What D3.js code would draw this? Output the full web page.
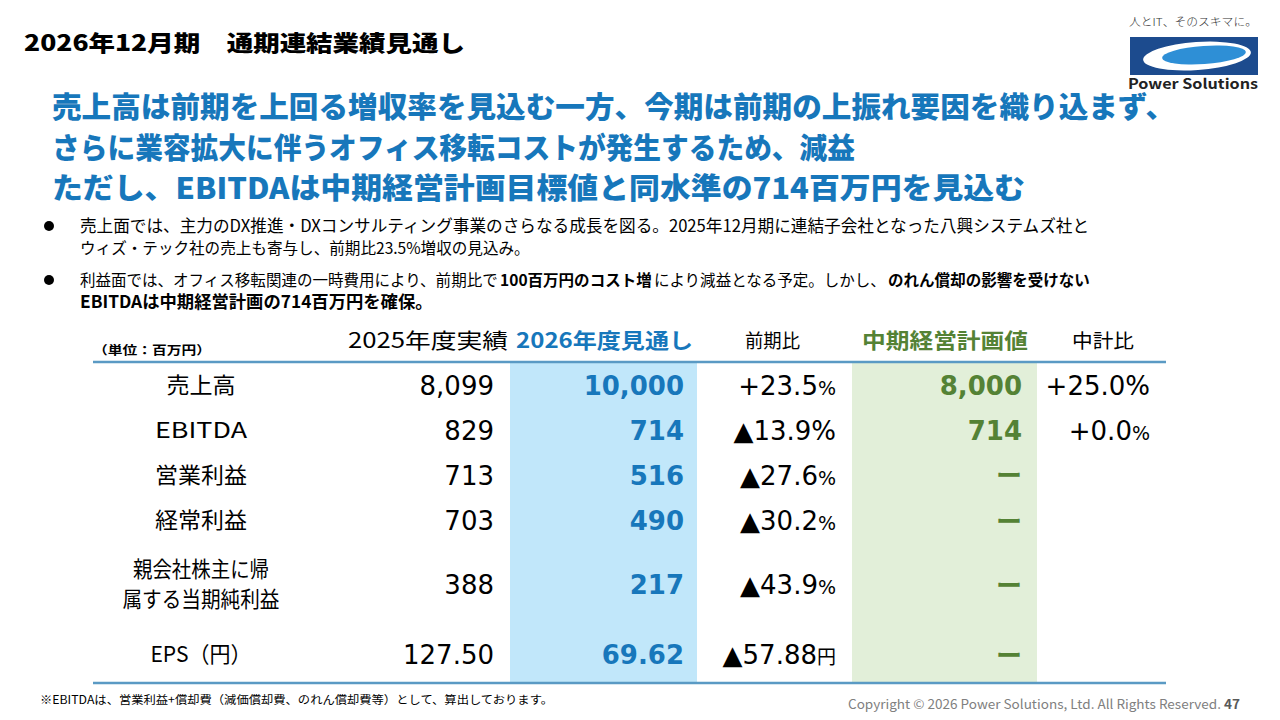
<!DOCTYPE html>
<html>
<head>
<meta charset="utf-8">
<script src="https://cdn.jsdelivr.net/npm/d3@7"></script>
<style>
  body { margin: 0; background: #fff; }
  svg { display: block; }
  text { font-family: 'Noto Sans CJK JP', 'Noto Sans', sans-serif; }
  .num { font-family: 'DejaVu Sans', 'Noto Sans CJK JP', sans-serif; }
</style>
</head>
<body>
<svg id="slide" width="1280" height="720"></svg>
<script>
// ---- data ----
var columnHeaders = ["2025年度実績", "2026年度見通し", "前期比", "中期経営計画値", "中計比"];
var rowLabels = [["売上高"], ["EBITDA"], ["営業利益"], ["経常利益"], ["親会社株主に帰", "属する当期純利益"], ["EPS（円）"]];
var actual2025 = ["8,099", "829", "713", "703", "388", "127.50"];
var forecast2026 = ["10,000", "714", "516", "490", "217", "69.62"];
var yoyValues = ["+23.5", "▲13.9", "▲27.6", "▲30.2", "▲43.9", "▲57.88"];
var yoyUnits = ["%", "%", "%", "%", "%", "円"];
var planValues = ["8,000", "714", "ー", "ー", "ー", "ー"];
var vsPlanValues = ["+25.0", "+0.0", "", "", "", ""];
var vsPlanUnits = ["%", "%", "", "", "", ""];

var titleText = "2026年12月期　通期連結業績見通し";
var headlineLines = [
  "売上高は前期を上回る増収率を見込む一方、今期は前期の上振れ要因を織り込まず、",
  "さらに業容拡大に伴うオフィス移転コストが発生するため、減益",
  "ただし、EBITDAは中期経営計画目標値と同水準の714百万円を見込む"
];
// each bullet: lines of [text, bold] runs
var bullets = [
  [
    [["売上面では、主力のDX推進・DXコンサルティング事業のさらなる成長を図る。2025年12月期に連結子会社となった八興システムズ社と", false]],
    [["ウィズ・テック社の売上も寄与し、前期比23.5%増収の見込み。", false]]
  ],
  [
    [["利益面では、オフィス移転関連の一時費用により、前期比で", false], ["100百万円のコスト増", true], ["により減益となる予定。しかし、", false], ["のれん償却の影響を受けない", true]],
    [["EBITDAは中期経営計画の714百万円を確保。", true]]
  ]
];
var unitNote = "（単位：百万円）";
var footNote = "※EBITDAは、営業利益+償却費（減価償却費、のれん償却費等）として、算出しております。";
var copyright = "Copyright © 2026 Power Solutions, Ltd. All Rights Reserved.";
var pageNo = "47";

// ---- layout / style ----
var blue = "#1777bb", green = "#548235", lineColor = "#5a9ac4";
var tableTop = 362, tableBottom = 683, tableLeft = 93, tableRight = 1166;
var rowUnits = [46, 44, 46, 45, 83, 57];
var labelWidths = [[69], [92], [92], [92], [136, 157], [101]];
var yoySmallUnit = [true, false, true, true, true, true];
var vsPlanSmallUnit = [false, true];

var svg = d3.select("#slide");

// title
svg.append("text").attr("x", 24).attr("y", 51)
  .attr("font-size", 22).attr("font-weight", 900).attr("fill", "#000")
  .attr("textLength", 441).attr("lengthAdjust", "spacingAndGlyphs")
  .text(titleText);

// logo
var logo = svg.append("g").attr("class", "logo");
logo.append("text").attr("x", 1193).attr("y", 26).attr("text-anchor", "middle")
  .attr("font-size", 11).attr("font-weight", 300).attr("fill", "#333").attr("textLength", 128)
  .attr("lengthAdjust", "spacingAndGlyphs").text("人とIT、そのスキマに。");
logo.append("rect").attr("x", 1130).attr("y", 37).attr("width", 128).attr("height", 38).attr("fill", "#1c4b8e");
logo.append("ellipse").attr("cx", 1197).attr("cy", 56).attr("rx", 54).attr("ry", 14)
  .attr("transform", "rotate(-4 1197 56)").attr("fill", "#fff");
logo.append("ellipse").attr("cx", 1204).attr("cy", 55).attr("rx", 42).attr("ry", 9)
  .attr("transform", "rotate(-4 1204 55)").attr("fill", "#2e8fd6");
logo.append("text").attr("x", 1193).attr("y", 89).attr("text-anchor", "middle")
  .attr("font-size", 14).attr("font-weight", "bold").attr("fill", "#222")
  .attr("font-family", "'Open Sans', sans-serif")
  .attr("textLength", 130).attr("lengthAdjust", "spacingAndGlyphs").text("Power Solutions");

// headline
var headlineWidths = [1123, 803, 973];
svg.append("g").selectAll("text").data(headlineLines).enter().append("text")
  .attr("x", 52).attr("y", function (d, i) { return 118 + i * 40.5; })
  .attr("font-size", 29).attr("font-weight", 900).attr("fill", blue)
  .attr("textLength", function (d, i) { return headlineWidths[i]; })
  .attr("lengthAdjust", "spacingAndGlyphs")
  .text(function (d) { return d; });

// bullets: each run is its own text; font size picked so the line fills its width
var bulletY = [232, 286];
var bulletLineWidths = [[1010, 450], [1010, 390]];
var baseSize = 16.5, runGap = 2;
var bg = svg.append("g").attr("class", "bullets");
bullets.forEach(function (b, bi) {
  bg.append("circle").attr("cx", 49).attr("cy", bulletY[bi] - 6).attr("r", 5).attr("fill", "#000");
  b.forEach(function (line, li) {
    var y = bulletY[bi] + li * 22;
    var nodes = line.map(function (run) {
      return bg.append("text").attr("y", y).attr("font-size", baseSize).attr("fill", "#000")
        .attr("font-weight", run[1] ? "bold" : "normal").text(run[0]);
    });
    var widths = nodes.map(function (n) { return n.node().getComputedTextLength(); });
    var k = Math.min(1.05, (bulletLineWidths[bi][li] - runGap * (nodes.length - 1)) / d3.sum(widths));
    var x = 80;
    nodes.forEach(function (n, ni) {
      n.attr("x", x).attr("font-size", baseSize * k);
      x += widths[ni] * k + runGap;
    });
  });
});

// ---- table ----
var cum = [0];
rowUnits.forEach(function (u, i) { cum.push(cum[i] + u); });
var yScale = d3.scaleLinear().domain([0, cum[cum.length - 1]]).range([tableTop, tableBottom]);
var rowCenter = function (i) { return yScale((cum[i] + cum[i + 1]) / 2); };

var table = svg.append("g").attr("class", "table");

// column backgrounds
table.append("rect").attr("x", 510).attr("y", tableTop).attr("width", 187)
  .attr("height", tableBottom - tableTop).attr("fill", "#c1e7fa");
table.append("rect").attr("x", 852).attr("y", tableTop).attr("width", 185)
  .attr("height", tableBottom - tableTop).attr("fill", "#e2efd9");

// rules
[tableTop, tableBottom].forEach(function (y) {
  table.append("line").attr("x1", tableLeft).attr("x2", tableRight).attr("y1", y).attr("y2", y)
    .attr("stroke", lineColor).attr("stroke-width", 2.5);
});

// headers
var headerX = [428, 604.5, 772.5, 945, 1103];
var headerW = [160, 177, 55, 166, 62];
var headerStyle = [
  { c: "#000", w: "normal", s: 21 }, { c: blue, w: "bold", s: 21 },
  { c: "#000", w: "normal", s: 19 }, { c: green, w: "bold", s: 21 }, { c: "#000", w: "normal", s: 19 }
];
table.selectAll(".hdr").data(columnHeaders).enter().append("text").attr("class", "hdr")
  .attr("x", function (d, i) { return headerX[i]; }).attr("y", 348)
  .attr("text-anchor", "middle")
  .attr("font-size", function (d, i) { return headerStyle[i].s; })
  .attr("font-weight", function (d, i) { return headerStyle[i].w; })
  .attr("fill", function (d, i) { return headerStyle[i].c; })
  .attr("textLength", function (d, i) { return headerW[i]; })
  .attr("lengthAdjust", "spacingAndGlyphs")
  .text(function (d) { return d; });

table.append("text").attr("x", 93).attr("y", 355).attr("font-size", 12).attr("font-weight", "bold")
  .attr("textLength", 118).attr("lengthAdjust", "spacingAndGlyphs").text(unitNote);

// row labels
rowLabels.forEach(function (lines, i) {
  var cy = rowCenter(i);
  lines.forEach(function (l, li) {
    table.append("text").attr("x", 201)
      .attr("y", cy + (li - (lines.length - 1) / 2) * 30)
      .attr("dy", "0.36em").attr("text-anchor", "middle").attr("font-size", 22)
      .attr("textLength", labelWidths[i][li]).attr("lengthAdjust", "spacingAndGlyphs")
      .text(l);
  });
});

function valueColumn(values, xRight, opts) {
  table.append("g").selectAll("text").data(values).enter().append("text")
    .attr("class", "num")
    .attr("x", xRight).attr("y", function (d, i) { return rowCenter(i); })
    .attr("dy", "0.37em").attr("text-anchor", "end")
    .attr("font-size", 26).attr("font-weight", opts.bold ? "bold" : "normal")
    .attr("fill", opts.color)
    .text(function (d) { return d; });
}
valueColumn(actual2025, 494, { color: "#000" });
valueColumn(forecast2026, 684, { bold: true, color: blue });

// plan column (dash for missing)
table.append("g").selectAll("text").data(planValues).enter().append("text")
  .attr("class", function (d) { return d === "ー" ? "" : "num"; })
  .attr("x", 1022).attr("y", function (d, i) { return rowCenter(i); })
  .attr("dy", function (d) { return d === "ー" ? "0.4em" : "0.37em"; })
  .attr("text-anchor", "end").attr("font-size", 26).attr("font-weight", "bold")
  .attr("fill", green)
  .text(function (d) { return d; });

function ratioColumn(values, units, small, xRight) {
  var g = table.append("g");
  values.forEach(function (v, i) {
    if (!v) return;
    var t = g.append("text").attr("class", "num").attr("x", xRight).attr("y", rowCenter(i))
      .attr("dy", "0.37em").attr("text-anchor", "end").attr("font-size", 26).attr("fill", "#000");
    t.append("tspan").text(v);
    t.append("tspan").attr("font-size", small[i] ? 19 : 26)
      .attr("font-family", units[i] === "円" ? "'Noto Sans CJK JP', sans-serif" : null)
      .text(units[i]);
  });
}
ratioColumn(yoyValues, yoyUnits, yoySmallUnit, 836);
ratioColumn(vsPlanValues, vsPlanUnits, vsPlanSmallUnit, 1150);

// footer
svg.append("text").attr("x", 40).attr("y", 704).attr("font-size", 11.5)
  .attr("textLength", 513).attr("lengthAdjust", "spacingAndGlyphs").text(footNote);
var ft = svg.append("text").attr("x", 1240).attr("y", 709).attr("text-anchor", "end")
  .attr("font-size", 13).attr("fill", "#808080")
  .attr("font-family", "'Open Sans', sans-serif")
  .attr("textLength", 392).attr("lengthAdjust", "spacingAndGlyphs");
ft.append("tspan").text(copyright + " ");
ft.append("tspan").attr("font-weight", "bold").attr("fill", "#595959").text(pageNo);
</script>
</body>
</html>
